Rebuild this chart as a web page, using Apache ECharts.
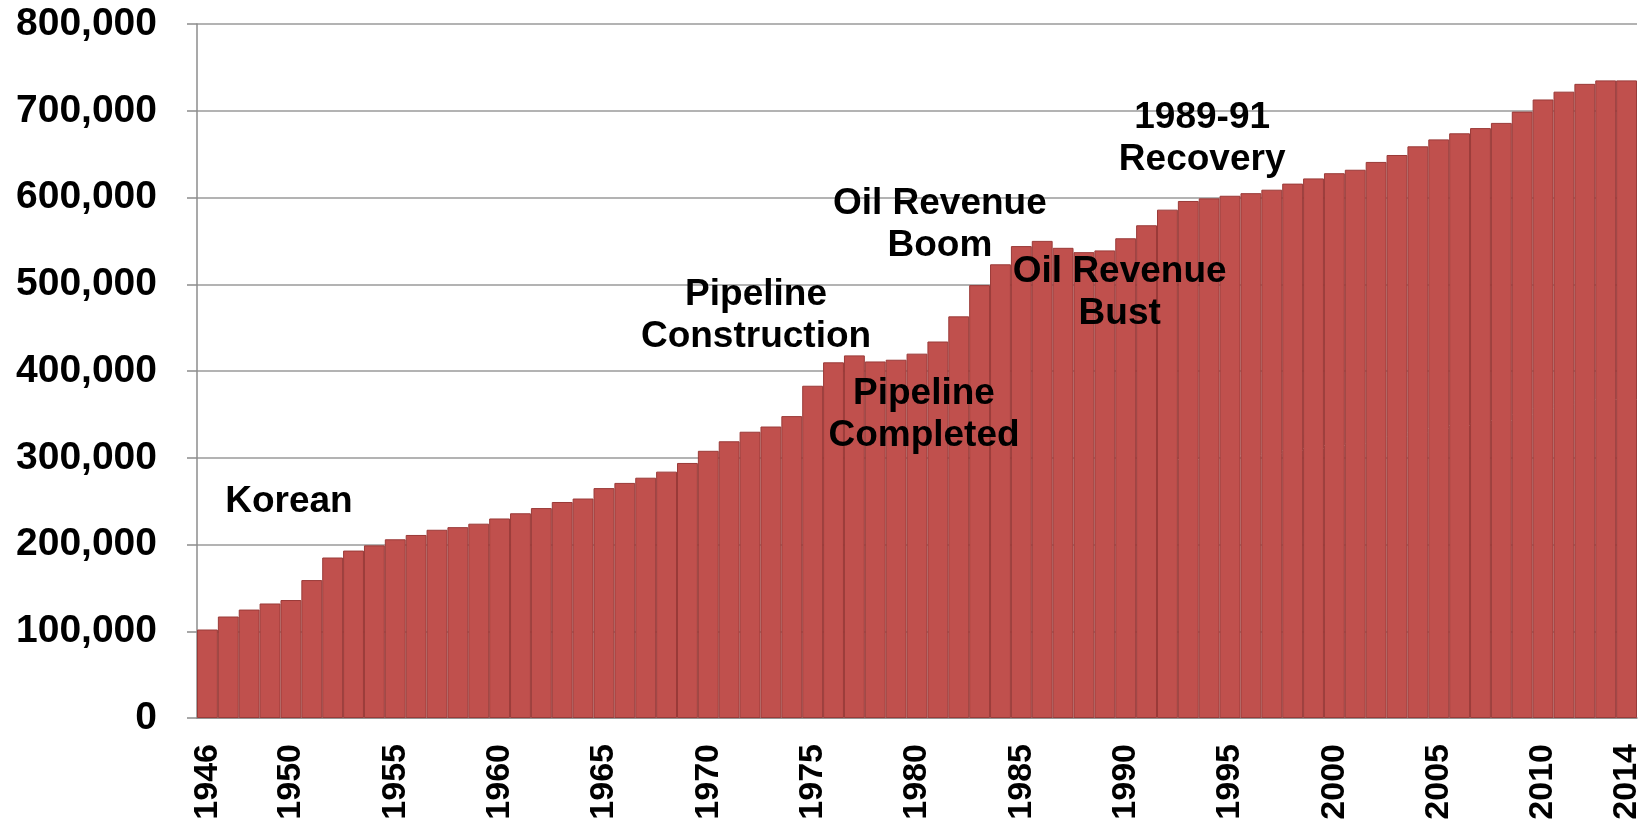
<!DOCTYPE html>
<html>
<head>
<meta charset="utf-8">
<title>Alaska population 1946-2014</title>
<script src="https://cdn.jsdelivr.net/npm/echarts@6/dist/echarts.min.js"></script>
<style>
  html, body { margin: 0; padding: 0; background: #fff; }
  #chart { width: 1650px; height: 833px; }
</style>
</head>
<body>
<div id="chart"></div>
<script>
// years 1946..2014
const years = [];
for (let y = 1946; y <= 2014; y++) years.push(String(y));

// values
const population = [
  102000, 117000, 125000, 132000, 136000, 159000, 185000, 193000, 199000, 206000,
  211000, 217000, 220000, 224000, 230000, 236000, 242000, 249000, 253000, 265000,
  271000, 277000, 284000, 294000, 308000, 319000, 330000, 336000, 348000, 383000,
  410000, 418000, 411000, 413000, 420000, 434000, 463000, 499000, 523000, 544000,
  550000, 542000, 537000, 539000, 553000, 568000, 586000, 596000, 599000, 602000,
  605000, 609000, 616000, 622000, 628000, 632000, 641000, 649000, 659000, 667000,
  674000, 680000, 686000, 699000, 713000, 722000, 731000, 735000, 735000
];

// annotations: text, anchor year, anchor value, horizontal nudge
const noteTexts = ['Korean', 'Pipeline\nConstruction', 'Oil Revenue\nBoom', 'Pipeline\nCompleted', 'Oil Revenue\nBust', '1989-91\nRecovery'];
const noteYears = ['1950', '1972', '1981', '1980', '1990', '1994'];
const noteValues = [249000, 464000, 568000, 350000, 490000, 668000];
const noteShift = [-2, 6, 2, 7, -6, -7];

const FONT = '"Liberation Sans", Arial, sans-serif';

const chart = echarts.init(document.getElementById('chart'));

const notes = noteTexts.map((t, i) => ({
  coord: [noteYears[i], noteValues[i]],
  symbol: 'circle',
  symbolSize: 2,
  itemStyle: { color: 'rgba(0,0,0,0)' },
  label: {
    show: true,
    position: 'inside',
    formatter: t,
    offset: [noteShift[i], 0],
    color: '#000',
    fontFamily: FONT,
    fontWeight: 'bold',
    fontSize: 37,
    lineHeight: 42,
    align: 'center',
    verticalAlign: 'middle'
  }
}));

chart.setOption({
  animation: false,
  grid: { left: 197, right: 13, top: 24, bottom: 115 },
  xAxis: {
    type: 'category',
    data: years,
    boundaryGap: true,
    axisLine: { lineStyle: { color: '#8c8c8c', width: 1.5 } },
    axisTick: { interval: 0, length: 12, lineStyle: { color: '#8c8c8c', width: 1.5 } },
    axisLabel: {
      interval: (idx, val) => idx === 0 || idx === years.length - 1 || Number(val) % 5 === 0,
      rotate: 90,
      margin: 26,
      color: '#000',
      fontFamily: FONT,
      fontWeight: 'bold',
      fontSize: 34
    }
  },
  yAxis: {
    type: 'value',
    min: 0,
    max: 800000,
    interval: 100000,
    axisLine: { show: true, lineStyle: { color: '#8c8c8c', width: 1.5 } },
    axisTick: { show: true, length: 10, lineStyle: { color: '#8c8c8c', width: 1.5 } },
    splitLine: { lineStyle: { color: '#9a9a9a', width: 1.5 } },
    axisLabel: {
      margin: 40,
      color: '#000',
      fontFamily: FONT,
      fontWeight: 'bold',
      fontSize: 39,
      formatter: v => v.toLocaleString('en-US')
    }
  },
  series: [{
    type: 'bar',
    data: population,
    barCategoryGap: 0,
    itemStyle: { color: '#c0504d', borderColor: '#9a3a38', borderWidth: 1 },
    markPoint: { silent: true, data: notes }
  }]
});
</script>
</body>
</html>
